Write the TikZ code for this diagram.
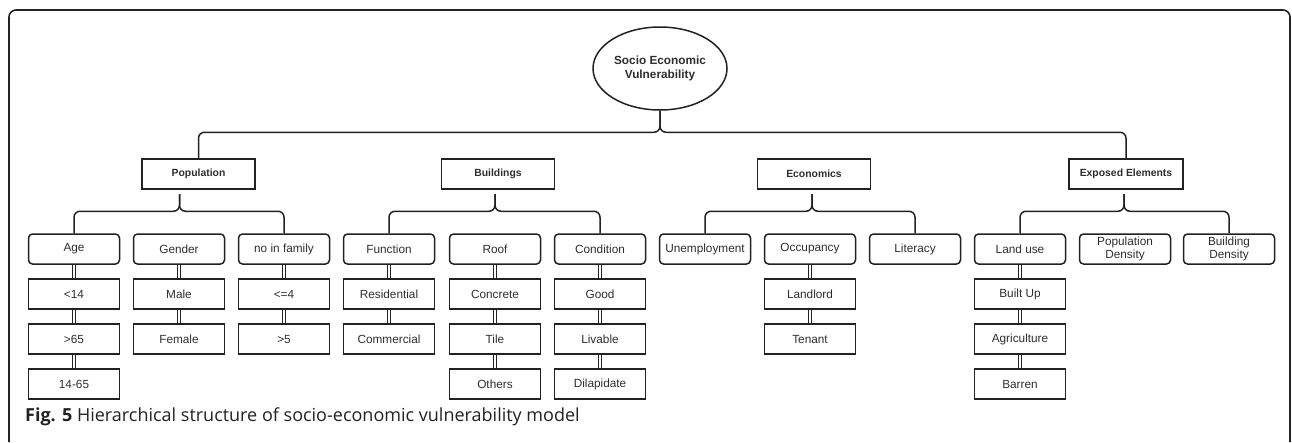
\documentclass[tikz,border=0pt]{standalone}
\usepackage{fontspec}
\setmainfont{Liberation Sans}
\newfontfamily\capfont{Open Sans}
\usetikzlibrary{shapes.geometric}
\definecolor{ln}{HTML}{222222}
\definecolor{tx}{HTML}{2E2E2E}
\begin{document}
\begin{tikzpicture}[x=1pt,y=-1pt,
  every node/.style={text=tx},
  topbox/.style={draw=ln,line width=1.5pt,minimum width=113pt,minimum height=30pt,inner sep=0pt,font=\fontsize{10.4}{12}\selectfont\bfseries},
  subbox/.style={draw=ln,line width=1.5pt,minimum width=91pt,minimum height=30pt,inner sep=0pt,align=center,font=\fontsize{11.8}{14}\selectfont},
  headbox/.style={subbox,rounded corners=4pt},
  conn/.style={draw=ln,line width=1.5pt,rounded corners=6pt},
  dbl/.style={draw=ln,line width=1pt,double=white,double distance=1.6pt},
  frame/.style={draw=ln,line width=1.6pt,rounded corners=7pt}
]
\useasboundingbox (0,0) rectangle (1292,442);
\draw[frame] (9,442) |- (1290,10) -- (1290,442);

% root
\node[draw=ln,line width=1.5pt,ellipse,minimum width=134pt,minimum height=83pt,inner sep=0pt,align=center,
  font=\fontsize{11.8}{14.5}\selectfont\bfseries] (root) at (660,68.5) {Socio Economic\\Vulnerability};

% top level
\node[topbox] (pop) at (198.5,174) {Population};
\node[topbox] (bui) at (498,174) {Buildings};
\node[topbox] (eco) at (814,174) {Economics};
\node[topbox,minimum width=114pt] (exp) at (1126,174) {Exposed Elements};

% stems (free ends of braces)
\coordinate (popstem) at (179.5,194);
\coordinate (buistem) at (495,194);
\coordinate (ecostem) at (812,194);
\coordinate (expstem) at (1124,194);

% row 1
\node[headbox] (age) at (74,249) {Age};
\node[headbox] (gen) at (179,249) {Gender};
\node[headbox] (fam) at (284,249) {no in family};
\node[headbox] (fun) at (389,249) {Function};
\node[headbox] (roof) at (495,249) {Roof};
\node[headbox] (cond) at (600,249) {Condition};
\node[headbox] (unemp) at (705,249) {Unemployment};
\node[headbox] (occ) at (810,249) {Occupancy};
\node[headbox] (lit) at (915,249) {Literacy};
\node[headbox] (land) at (1020,249) {Land use};
\node[headbox] (popd) at (1125,249) {Population\\[-1pt]Density};
\node[headbox] (bld) at (1229,249) {Building\\[-1pt]Density};

% lower rows
\node[subbox] (a1) at (74,294) {<14};
\node[subbox] (a2) at (74,339) {>65};
\node[subbox] (a3) at (74,384) {14-65};
\node[subbox] (g1) at (179,294) {Male};
\node[subbox] (g2) at (179,339) {Female};
\node[subbox] (f1) at (284,294) {<=4};
\node[subbox] (f2) at (284,339) {>5};
\node[subbox] (u1) at (389,294) {Residential};
\node[subbox] (u2) at (389,339) {Commercial};
\node[subbox] (r1) at (495,294) {Concrete};
\node[subbox] (r2) at (495,339) {Tile};
\node[subbox] (r3) at (495,384) {Others};
\node[subbox] (c1) at (600,294) {Good};
\node[subbox] (c2) at (600,339) {Livable};
\node[subbox] (c3) at (600,384) {Dilapidate};
\node[subbox] (o1) at (810,294) {Landlord};
\node[subbox] (o2) at (810,339) {Tenant};
\node[subbox] (l1) at (1020,294) {Built Up};
\node[subbox] (l2) at (1020,339) {Agriculture};
\node[subbox] (l3) at (1020,384) {Barren};

% top brace
\draw[conn] (pop.north) -- ++(0,-26) -| (root.south);
\draw[conn] (exp.north) -- ++(0,-26) -| (root.south);

% group braces
\draw[conn] (age.north) -- ++(0,-22) -| (popstem);
\draw[conn] (fam.north) -- ++(0,-22) -| (popstem);
\draw[conn] (fun.north) -- ++(0,-22) -| (buistem);
\draw[conn] (cond.north) -- ++(0,-22) -| (buistem);
\draw[conn] (unemp.north) -- ++(0,-22) -| (ecostem);
\draw[conn] (lit.north) -- ++(0,-22) -| (ecostem);
\draw[conn] (land.north) -- ++(0,-22) -| (expstem);
\draw[conn] (bld.north) -- ++(0,-22) -| (expstem);

% double links
\foreach \p/\c in {age/a1,a1/a2,a2/a3,gen/g1,g1/g2,fam/f1,f1/f2,fun/u1,u1/u2,roof/r1,r1/r2,r2/r3,cond/c1,c1/c2,c2/c3,occ/o1,o1/o2,land/l1,l1/l2,l2/l3}
  \draw[dbl] (\p.south) -- (\c.north);

% caption
\node[anchor=base west,inner sep=0pt,text=ln,font=\capfont\fontsize{18}{21}\selectfont] (cap) at (25,421)
  {\textbf{Fig. 5} Hierarchical structure of socio-economic vulnerability model};
\end{tikzpicture}
\end{document}
